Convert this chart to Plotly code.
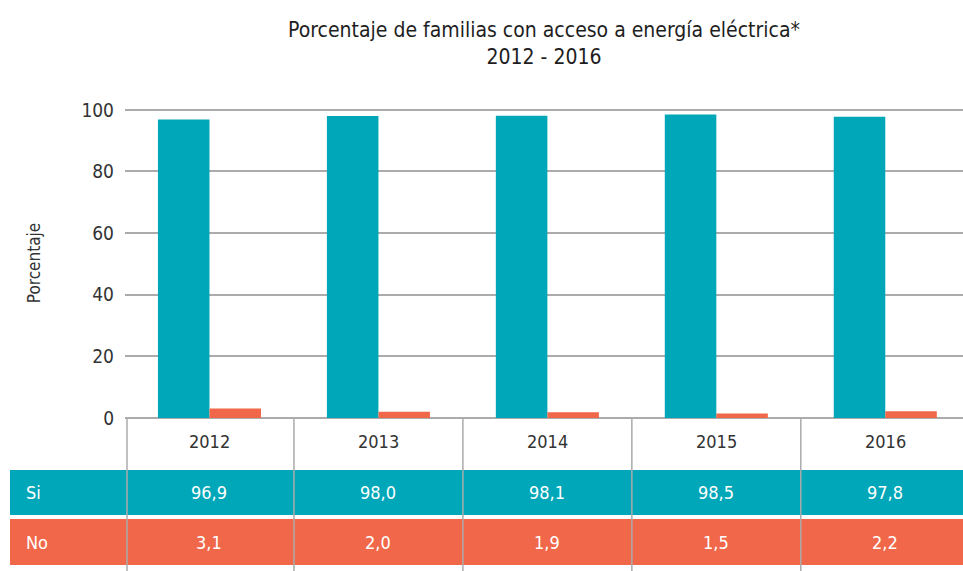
import plotly.graph_objects as go

years = ["2012", "2013", "2014", "2015", "2016"]
si_values = [96.9, 98.0, 98.1, 98.5, 97.8]
no_values = [3.1, 2.0, 1.9, 1.5, 2.2]
y_ticks = [0, 20, 40, 60, 80, 100]

TEAL = "#00A7B9"
ORANGE = "#F0674A"
GRID = "#ABABAB"
FONT = "Liberation Sans Narrow, DejaVu Sans Condensed, Arial Narrow, sans-serif"

W, H = 963, 571
ML, MR, MT, MB = 125, 0, 108, 153
plot_h = H - MT - MB
n = len(years)
X0, X1 = -0.5, n - 0.54


def py(pix):
    return (H - MB - pix) / plot_h


def px(pix):
    return (pix - ML) / (W - ML - MR)


def xcat(v):
    return (v - X0) / (X1 - X0)


fig = go.Figure()
fig.add_trace(go.Bar(x=years, y=si_values, name="Si", marker_color=TEAL,
                     marker_line_width=0))
fig.add_trace(go.Bar(x=years, y=no_values, name="No", marker_color=ORANGE,
                     marker_line_width=0))

shapes = []
shapes.append(dict(type="rect", xref="paper", yref="paper", x0=px(10), x1=1,
                   y0=py(515), y1=py(470), fillcolor=TEAL, line_width=0, layer="below"))
shapes.append(dict(type="rect", xref="paper", yref="paper", x0=px(10), x1=1,
                   y0=py(565), y1=py(519), fillcolor=ORANGE, line_width=0, layer="below"))
for i in range(n):
    xp = max(xcat(i - 0.5), px(127))
    shapes.append(dict(type="line", xref="paper", yref="paper", x0=xp, x1=xp,
                       y0=0, y1=py(575), line=dict(color=GRID, width=1.5), layer="above"))

annotations = []


def ann(x, y, text, color, xanchor="center"):
    annotations.append(dict(x=x, y=y, xref="paper", yref="paper", text=text,
                            xanchor=xanchor, yanchor="middle", showarrow=False,
                            font=dict(size=18, color=color, family=FONT)))


for i, yr in enumerate(years):
    xc = xcat(i)
    ann(xc, py(441), yr, "#333333")
    ann(xc, py(492), f"{si_values[i]:.1f}".replace(".", ","), "white")
    ann(xc, py(542), f"{no_values[i]:.1f}".replace(".", ","), "white")
ann(px(24), py(492), "Si", "white", "left")
ann(px(24), py(542), "No", "white", "left")

fig.update_layout(
    width=W, height=H,
    margin=dict(l=ML, r=MR, t=MT, b=MB),
    paper_bgcolor="white", plot_bgcolor="white",
    barmode="group", bargap=0.39, bargroupgap=0,
    showlegend=False,
    title=dict(text="Porcentaje de familias con acceso a energía eléctrica*<br>2012 - 2016",
               x=0.5, xref="paper", xanchor="center", y=1 - 37 / H, yanchor="middle",
               font=dict(size=21, color="#1E1E1E", family=FONT)),
    font=dict(family=FONT, color="#333333"),
    shapes=shapes,
    annotations=annotations,
)
fig.update_xaxes(type="category", range=[X0, X1], showticklabels=False, showgrid=False,
                 showline=False, zeroline=False, ticks="")
fig.update_yaxes(range=[0, 100.6], tickvals=y_ticks, showgrid=True, gridcolor=GRID,
                 gridwidth=1.5, zeroline=True, zerolinecolor=GRID, zerolinewidth=2,
                 tickfont=dict(size=19, color="#333333", family=FONT),
                 ticks="", ticklabelstandoff=10,
                 title=dict(text="Porcentaje", standoff=36,
                            font=dict(size=17, color="#333333", family=FONT)))

fig.write_html("out.html", config={"displayModeBar": False},
               post_script="document.body.style.margin='0';document.body.style.overflow='hidden';")
